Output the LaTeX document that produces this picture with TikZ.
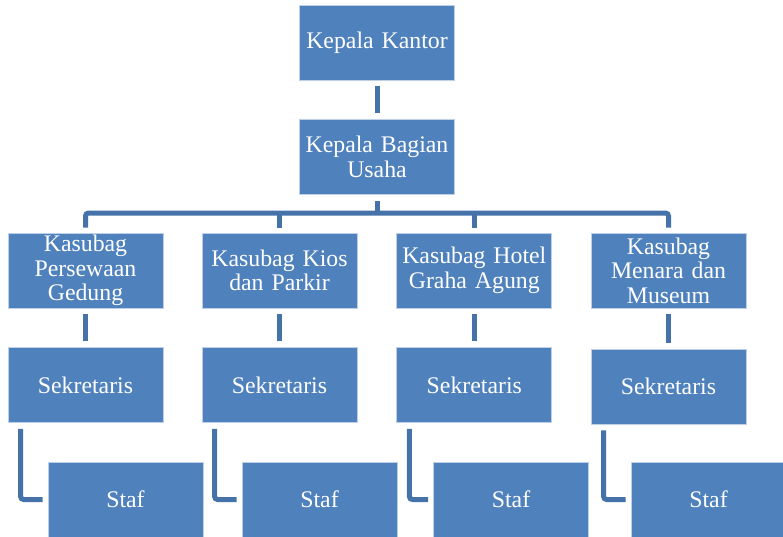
\documentclass[tikz,border=0pt]{standalone}
\usepackage{fontspec}
\setmainfont{Liberation Serif}
\usetikzlibrary{calc}
\definecolor{boxblue}{RGB}{79,129,189}
\definecolor{boxedge}{RGB}{190,208,232}
\definecolor{linkblue}{RGB}{70,114,170}
\tikzset{
  orgbox/.style={draw=boxedge, line width=0.8pt, fill=boxblue, text=white,
    minimum width=155pt, minimum height=75pt, text width=150pt, inner xsep=2.5pt,
    inner ysep=0pt, align=center,
    font=\fontsize{23.8}{24.5}\selectfont},
  conn/.style={draw=linkblue, line width=5pt},
  elbow/.style={draw=linkblue, line width=5pt, rounded corners=3pt}
}
\begin{document}
\begin{tikzpicture}[x=1pt,y=-1pt]
\clip (0,0) rectangle (783,536);
% top
\node[orgbox] (kk) at (377,42.5) {Kepala Kantor};
\node[orgbox] (kb) at (377,157) {Kepala Bagian\\Usaha};
% level 2
\node[orgbox] (k1) at (85.5,270.5) {Kasubag\\Persewaan\\Gedung};
\node[orgbox] (k2) at (279.5,270.5) {Kasubag Kios\\dan Parkir};
\node[orgbox] (k3) at (474.3,270.5) {Kasubag Hotel\\Graha Agung};
\node[orgbox] (k4) at (668.5,270.5) {Kasubag\\Menara dan\\Museum};
% sekretaris
\node[orgbox] (s1) at (85.5,385) {Sekretaris};
\node[orgbox] (s2) at (279.5,385) {Sekretaris};
\node[orgbox] (s3) at (474.3,385) {Sekretaris};
\node[orgbox] (s4) at (668.5,386.5) {Sekretaris};
% staf
\node[orgbox] (f1) at (125.5,499.5) {Staf};
\node[orgbox] (f2) at (319.5,499.5) {Staf};
\node[orgbox] (f3) at (511,499.5) {Staf};
\node[orgbox] (f4) at (708.5,499.5) {Staf};
% connectors
\coordinate (bus) at (377,213);
\draw[conn, shorten <=6pt, shorten >=6pt] (kk.south) -- (kb.north);
\draw[conn, shorten <=6pt] (kb.south) -- (bus);
\draw[elbow, shorten <=5pt, shorten >=5pt] (k1.north) |- (bus) -| (k4.north);
\draw[conn, shorten >=5pt] (k2.north |- bus) -- (k2.north);
\draw[conn, shorten >=5pt] (k3.north |- bus) -- (k3.north);
\foreach \i in {1,2,3,4}{
  \draw[conn, shorten <=6pt, shorten >=6pt] (k\i.south) -- (s\i.north);
  \draw[elbow, shorten <=6pt, shorten >=5pt] ($(s\i.south west)+(13pt,0)$) |- (f\i.west);
}
\end{tikzpicture}
\end{document}
